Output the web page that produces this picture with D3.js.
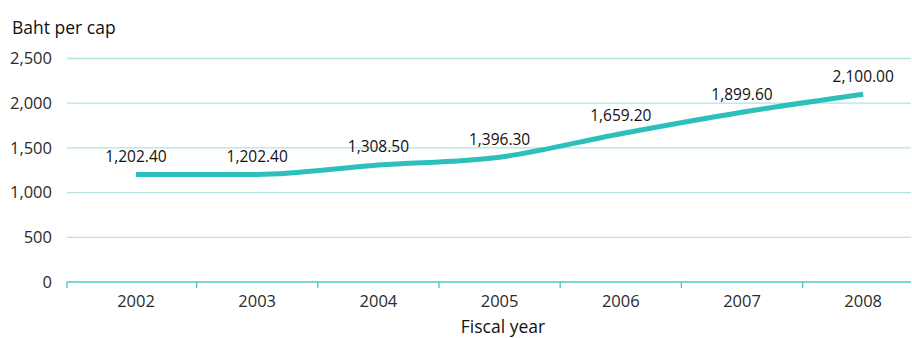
<!DOCTYPE html>
<html>
<head>
<meta charset="utf-8">
<script src="https://cdn.jsdelivr.net/npm/d3@7"></script>
<style>
  html, body { margin: 0; padding: 0; background: #fff; }
  svg { display: block; font-family: "Open Sans", "Noto Sans", sans-serif; }
</style>
</head>
<body>
<svg id="chart" width="912" height="338"></svg>
<script>
// Budget per capita by fiscal year (baht)
const years = ["2002", "2003", "2004", "2005", "2006", "2007", "2008"];
const values = [1202.40, 1202.40, 1308.50, 1396.30, 1659.20, 1899.60, 2100.00];
const yTicks = [0, 500, 1000, 1500, 2000, 2500];
const yTitle = "Baht per cap";
const xTitle = "Fiscal year";

const svg = d3.select("#chart");
const lineColor = "#2dbfbb";
const gridColor = "#b3e3e2";
const axisColor = "#4fc9c5";

const axisLeft = 67, axisRight = 911;
const bandW = 121.2;
const firstCenter = 136;

const x = d3.scaleBand()
  .domain(years)
  .range([firstCenter - bandW / 2, firstCenter - bandW / 2 + bandW * years.length])
  .padding(0);

const y = d3.scaleLinear().domain([0, 2500]).range([282, 58.5]);

const cx = d => x(d) + x.bandwidth() / 2;

// horizontal gridlines
svg.append("g")
  .selectAll("line")
  .data(yTicks.filter(t => t > 0))
  .join("line")
  .attr("x1", axisLeft).attr("x2", axisRight)
  .attr("y1", d => y(d)).attr("y2", d => y(d))
  .attr("stroke", gridColor).attr("stroke-width", 1.3);

// y tick labels
svg.append("g")
  .selectAll("text")
  .data(yTicks)
  .join("text")
  .attr("x", 52)
  .attr("y", d => y(d))
  .attr("dy", "0.35em")
  .attr("text-anchor", "end")
  .attr("font-size", 16.5)
  .attr("fill", "#2b2b2b")
  .text(d => d3.format(",")(d));

// x axis baseline and category separators
const xa = svg.append("g");
xa.append("line")
  .attr("x1", axisLeft).attr("x2", axisRight)
  .attr("y1", y(0)).attr("y2", y(0))
  .attr("stroke", axisColor).attr("stroke-width", 1.6);
const sepPositions = [axisLeft].concat(years.slice(1).map(d => x(d)));
xa.selectAll("line.sep")
  .data(sepPositions)
  .join("line")
  .attr("class", "sep")
  .attr("x1", d => d).attr("x2", d => d)
  .attr("y1", y(0)).attr("y2", y(0) + 6)
  .attr("stroke", axisColor).attr("stroke-width", 1.4);

xa.selectAll("text")
  .data(years)
  .join("text")
  .attr("x", d => cx(d))
  .attr("y", y(0) + 25)
  .attr("text-anchor", "middle")
  .attr("font-size", 16.5)
  .attr("fill", "#2b2b2b")
  .text(d => d);

// axis titles
svg.append("text")
  .attr("x", 12).attr("y", 34)
  .attr("font-size", 17.5)
  .attr("fill", "#111")
  .text(yTitle);

svg.append("text")
  .attr("x", 503).attr("y", 333)
  .attr("text-anchor", "middle")
  .attr("font-size", 17.5)
  .attr("fill", "#111")
  .text(xTitle);

// the series line
const line = d3.line()
  .x((d, i) => cx(years[i]))
  .y(d => y(d))
  .curve(d3.curveMonotoneX);

svg.append("path")
  .datum(values)
  .attr("d", line)
  .attr("fill", "none")
  .attr("stroke", lineColor)
  .attr("stroke-width", 5);

// value labels
svg.append("g")
  .selectAll("text")
  .data(values)
  .join("text")
  .attr("x", (d, i) => cx(years[i]))
  .attr("y", d => y(d) - 18)
  .attr("dy", "0.35em")
  .attr("text-anchor", "middle")
  .attr("font-size", 15.5)
  .attr("fill", "#111")
  .text(d => d3.format(",.2f")(d));
</script>
</body>
</html>
